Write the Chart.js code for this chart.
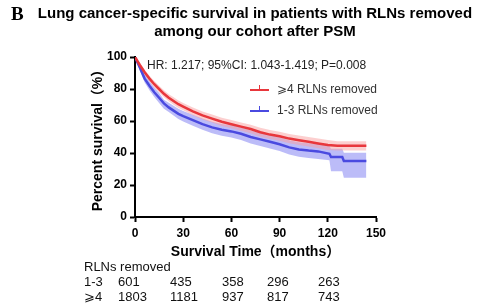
<!DOCTYPE html>
<html>
  <head>
    <title>Lung cancer-specific survival</title>
    <script src="https://cdn.jsdelivr.net/npm/chart.js"></script>
    <style>
      body {
        margin: 0;
        background-color: #ffffff;
        font-family: "Liberation Sans", Arial, sans-serif;
        color: #000000;
      }
      .wrap {
        position: relative;
        width: 481px;
        height: 308px;
        overflow: hidden;
      }
      #km {
        position: absolute;
        left: 0;
        top: 0;
      }
      .panel {
        position: absolute;
        left: 11px;
        top: 3px;
        font-family: "Liberation Serif", "Times New Roman", serif;
        font-weight: bold;
        font-size: 19px;
      }
      .title {
        position: absolute;
        left: 30px;
        width: 450px;
        text-align: center;
        font-weight: bold;
        font-size: 15px;
        line-height: 18px;
        top: 4px;
      }
      .hr {
        position: absolute;
        left: 147px;
        top: 58px;
        font-size: 12px;
        color: #222222;
      }
      .legend-item {
        position: absolute;
        left: 250px;
        font-size: 12px;
        color: #333333;
      }
      .legend-item .swatch {
        position: absolute;
        left: 0;
        top: 7px;
        width: 19px;
        height: 2px;
      }
      .legend-item .tick {
        position: absolute;
        left: 9px;
        top: 3px;
        width: 1px;
        height: 5px;
      }
      .legend-item .label {
        position: absolute;
        left: 27px;
        top: 0;
        white-space: nowrap;
      }
      .risk {
        position: absolute;
        font-size: 13px;
        color: #111111;
        white-space: nowrap;
      }
    </style>
  </head>
  <body>
    <div class="wrap">
      <canvas id="km" width="481" height="308"></canvas>
      <div class="panel">B</div>
      <div class="title">Lung cancer-specific survival in patients with RLNs removed<br>among our cohort after PSM</div>
      <div class="hr">HR: 1.217; 95%CI: 1.043-1.419; P=0.008</div>
      <div id="legend"></div>
      <div id="risk"></div>
    </div>

    <script>
      // survival estimates (months, percent)
      var redMonths = [0, 3, 6, 9, 12, 15, 18, 21, 24, 27, 30, 36, 42, 48, 54, 60, 66, 72, 78, 84, 90, 96, 102, 108, 114, 120, 126, 132, 138, 144];
      var redSurv = [100, 95, 90.5, 86.5, 83, 80, 77, 74.5, 72.5, 70.5, 69, 66, 63.5, 61.5, 59.5, 58, 56.5, 55, 53, 51.5, 50.5, 49, 48, 47, 46, 45, 44.5, 44.5, 44.5, 44.5];
      var redUpper = [100, 96.2, 92, 88.3, 85, 82.1, 79.2, 76.7, 74.8, 72.8, 71.3, 68.4, 66, 64, 62, 60.6, 59.1, 57.7, 55.8, 54.3, 53.3, 51.9, 51, 50, 49.1, 48.1, 47.3, 47.3, 47.3, 47.3];
      var redLower = [100, 93.8, 89, 84.7, 81, 77.9, 74.8, 72.3, 70.2, 68.2, 66.7, 63.6, 61, 59, 56.9, 55.4, 53.9, 52.3, 50.2, 48.7, 47.7, 46.1, 45, 44, 42.9, 41.9, 41.5, 41.5, 41.5, 41.5];

      var blueMonths = [0, 3, 6, 9, 12, 15, 18, 21, 24, 27, 30, 36, 42, 48, 54, 60, 66, 72, 78, 84, 90, 96, 102, 108, 114, 121, 122, 129, 130, 144];
      var blueSurv = [100, 93.5, 86.5, 82, 78, 74.5, 71, 68.5, 66.5, 64.5, 63, 60.5, 58, 56, 54.5, 53.5, 52, 50, 48.5, 47, 45.5, 43.5, 42.2, 41.5, 41, 39.5, 37.5, 37.5, 35, 35];
      var blueUpper = [100, 95.5, 89, 84.8, 81, 77.7, 73.3, 71.4, 69.6, 67.7, 66.3, 63.9, 61.5, 59.6, 58.2, 57.3, 55.9, 54, 52.6, 51.2, 49.8, 47.9, 46.7, 46.1, 45.7, 44.4, 42.6, 42.6, 40.2, 40.2];
      var blueLower = [100, 91.5, 84, 79.2, 75, 71.3, 67.7, 65.6, 63.4, 61.3, 59.7, 57.1, 54.5, 52.4, 50.8, 49.7, 48.1, 46, 44.4, 42.8, 41.2, 39.1, 37.7, 36.9, 36.3, 35.5, 28.6, 28.6, 24.5, 24.5];

      // number at risk table
      var riskMonths = [0, 30, 60, 90, 120];
      var riskLow = [601, 435, 358, 296, 263];
      var riskHigh = [1803, 1181, 937, 817, 743];

      var yTicks = [0, 20, 40, 60, 80, 100];
      var xTicks = [0, 30, 60, 90, 120, 150];

      var RED = "#e8373c";
      var BLUE = "#4a4ae0";

      function toPoints(xs, ys) {
        return xs.map(function (x, i) { return { x: x, y: ys[i] }; });
      }

      var tickFont = { family: "'Liberation Sans', Arial, sans-serif", size: 12, weight: "bold" };
      var titleFont = { family: "'Liberation Sans', Arial, 'Noto Sans CJK SC', sans-serif", size: 14, weight: "bold" };

      var ctx = document.getElementById("km").getContext("2d");
      // lower index is drawn on top: lines first, then red band, then blue band
      var chart = new Chart(ctx, {
        type: "line",
        data: {
          datasets: [
            { label: "≥4 RLNs removed", data: toPoints(redMonths, redSurv), borderColor: RED, borderWidth: 2.5, pointRadius: 0, fill: false },
            { label: "1-3 RLNs removed", data: toPoints(blueMonths, blueSurv), borderColor: BLUE, borderWidth: 2.5, pointRadius: 0, fill: false },
            { data: toPoints(redMonths, redUpper), borderWidth: 0, pointRadius: 0, fill: "+1", backgroundColor: "rgba(250,160,160,0.5)" },
            { data: toPoints(redMonths, redLower), borderWidth: 0, pointRadius: 0, fill: false },
            { data: toPoints(blueMonths, blueUpper), borderWidth: 0, pointRadius: 0, fill: "+1", backgroundColor: "rgba(165,165,245,0.75)" },
            { data: toPoints(blueMonths, blueLower), borderWidth: 0, pointRadius: 0, fill: false },
          ],
        },
        options: {
          responsive: false,
          animation: false,
          layout: { padding: { left: 86, right: 105, top: 57, bottom: 43 } },
          plugins: {
            legend: { display: false },
            tooltip: { enabled: false },
          },
          scales: {
            x: {
              type: "linear",
              min: 0,
              max: 150,
              afterBuildTicks: function (scale) {
                scale.ticks = xTicks.map(function (v) { return { value: v }; });
              },
              afterFit: function (scale) { scale.height = 48; },
              grid: { drawOnChartArea: false, color: "#000", tickLength: 5, tickWidth: 2 },
              border: { color: "#000", width: 2 },
              ticks: { color: "#000", font: tickFont, padding: 4, maxRotation: 0 },
              title: { display: true, text: "Survival Time（months）", color: "#000", font: titleFont },
            },
            y: {
              min: 0,
              max: 100,
              afterBuildTicks: function (scale) {
                scale.ticks = yTicks.map(function (v) { return { value: v }; });
              },
              afterFit: function (scale) { scale.width = 49; },
              grid: { drawOnChartArea: false, color: "#000", tickLength: 5, tickWidth: 2 },
              border: { color: "#000", width: 2 },
              ticks: { color: "#000", font: tickFont, padding: 3 },
              title: { display: true, text: "Percent survival（%）", color: "#000", font: titleFont },
            },
          },
        },
      });

      // legend, same order as the picture
      var legendRows = [
        { text: "⩾4 RLNs removed", color: RED, top: 82 },
        { text: "1-3 RLNs removed", color: BLUE, top: 103 },
      ];
      var legend = document.getElementById("legend");
      legendRows.forEach(function (row) {
        var item = document.createElement("div");
        item.className = "legend-item";
        item.style.top = row.top + "px";
        item.innerHTML = '<div class="swatch" style="background:' + row.color + '"></div>' +
          '<div class="tick" style="background:' + row.color + '"></div>' +
          '<div class="label">' + row.text + "</div>";
        legend.appendChild(item);
      });

      // number at risk table under the x axis
      var riskX = [118, 170, 222, 267, 318];
      var risk = document.getElementById("risk");
      function addRisk(text, left, top) {
        var d = document.createElement("div");
        d.className = "risk";
        d.style.left = left + "px";
        d.style.top = top + "px";
        d.textContent = text;
        risk.appendChild(d);
      }
      addRisk("RLNs removed", 84, 259);
      addRisk("1-3", 84, 274);
      addRisk("⩾4", 84, 289);
      riskMonths.forEach(function (m, i) {
        addRisk(String(riskLow[i]), riskX[i], 274);
        addRisk(String(riskHigh[i]), riskX[i], 289);
      });
    </script>
  </body>
</html>
